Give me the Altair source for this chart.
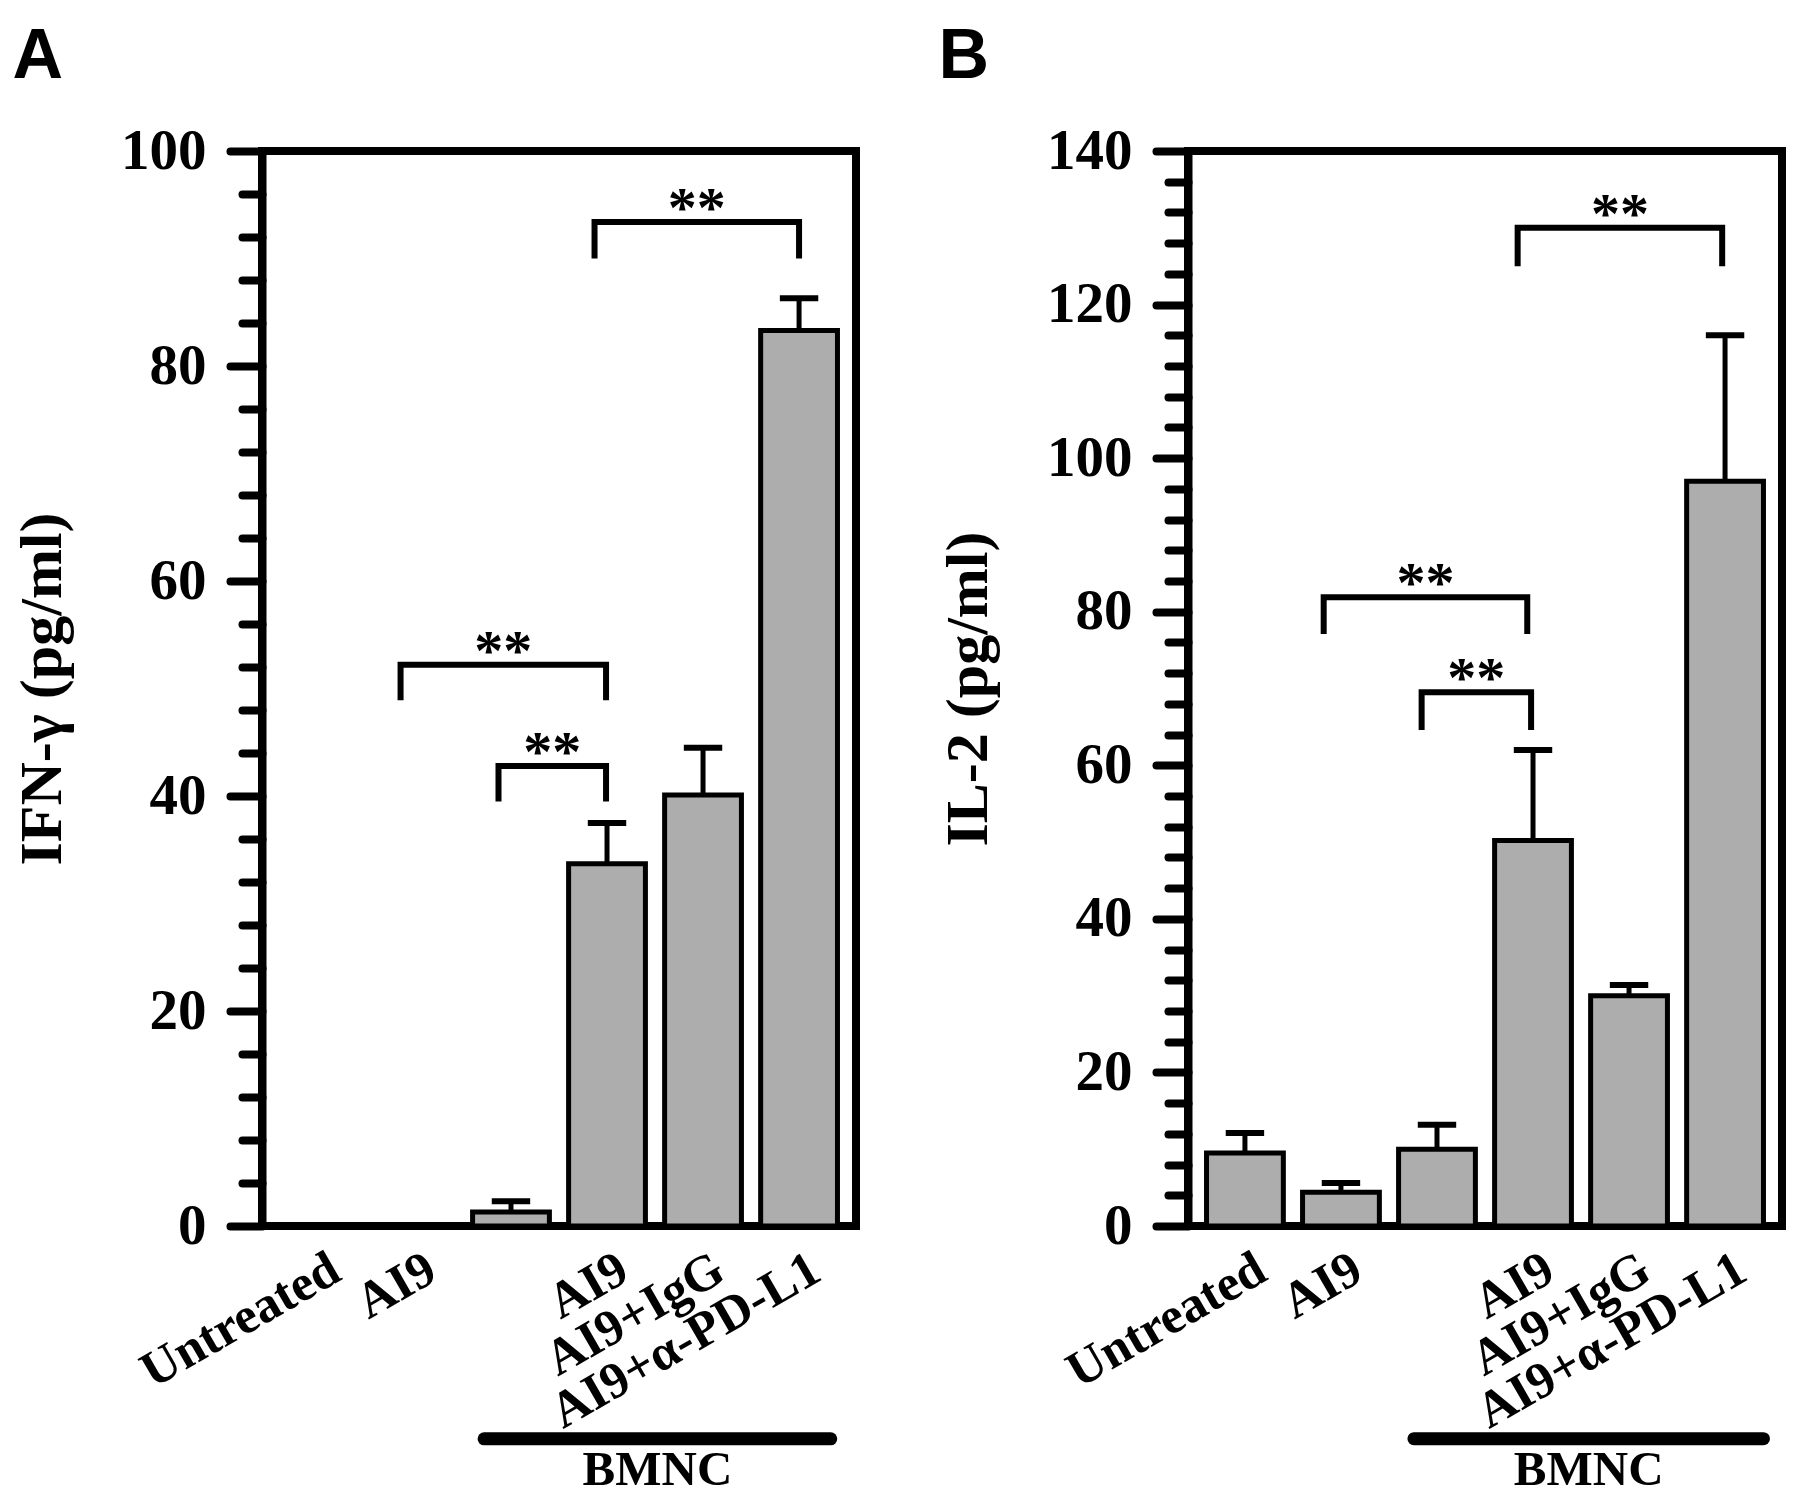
import altair as alt
import pandas as pd

# ---------------- data ----------------
groups = ["Untreated", "AI9", "", "AI9", "AI9+IgG", "AI9+α-PD-L1"]
group_pos = [1, 2, 3, 4, 5, 6]

ifn_mean = [0.0, 0.0, 1.3, 33.7, 40.1, 83.3]
ifn_upper = [0.0, 0.0, 2.3, 37.5, 44.5, 86.3]

il2_mean = [9.5, 4.4, 10.0, 50.2, 30.0, 97.0]
il2_upper = [12.1, 5.6, 13.2, 62.0, 31.4, 116.0]

# significance brackets: from / to (group position), bar level, foot level
ifn_br_from = [3.87, 1.85, 2.87]
ifn_br_to = [6.0, 3.99, 3.99]
ifn_br_level = [93.4, 52.2, 42.8]
ifn_br_foot = [90.0, 48.9, 39.5]

il2_br_from = [3.84, 1.82, 2.84]
il2_br_to = [5.97, 3.94, 3.98]
il2_br_level = [130.0, 81.9, 69.5]
il2_br_foot = [125.0, 77.1, 64.6]

sig_text = ["**", "**", "**"]

# BMNC group annotation (group positions, value-axis level below zero)
ifn_bmnc_span = [2.72, 6.33]
ifn_bmnc_line = -19.8
ifn_bmnc_text = -22.7
il2_bmnc_span = [2.76, 6.40]
il2_bmnc_line = -27.7
il2_bmnc_text = -31.8
bmnc_label = "BMNC"

x_domain = [0.407, 6.593]

SERIF = "Liberation Serif"
SANS = "Liberation Sans"
BAR_FILL = "#ADADAD"


def panel(letter, ytitle, mean, upper, br_from, br_to, br_level, br_foot,
          ymax, bmnc_span, bmnc_line, bmnc_text):
    df = pd.DataFrame({"pos": group_pos, "label": groups,
                       "mean": mean, "upper": upper})
    df["zero"] = 0.0
    df["x0"] = df["pos"] - 0.4
    df["x1"] = df["pos"] + 0.4
    df["c0"] = df["pos"] - 0.2
    df["c1"] = df["pos"] + 0.2

    xs = alt.Scale(domain=x_domain, nice=False, zero=False)
    ys = alt.Scale(domain=[0, ymax], nice=False, zero=False)

    major = list(range(0, ymax + 1, 20))
    minor = [v for v in range(0, ymax + 1, 4) if v % 20]

    major_axis = alt.Axis(
        orient="left", values=major, tickSize=32, tickWidth=8, tickCap="round",
        tickColor="black", domainColor="black", domainWidth=8,
        labelFont=SERIF, labelFontSize=57, labelFontWeight="bold",
        labelColor="black", labelPadding=24, labelFlush=False,
        labelOverlap=False,
        title=ytitle, titleFont=SERIF, titleFontSize=60,
        titleFontWeight="bold", titleColor="black", titlePadding=47,
        grid=False)
    minor_axis = alt.Axis(
        orient="left", values=minor, tickSize=20, tickWidth=8, tickCap="round",
        tickColor="black", domain=False, labels=False, title=None, grid=False)

    base = alt.Chart(df)

    bars = base.mark_rect(fill=BAR_FILL, stroke="black", strokeWidth=5).encode(
        x=alt.X("x0:Q", scale=xs, axis=None), x2="x1:Q",
        y=alt.Y("mean:Q", scale=ys, axis=major_axis), y2="zero:Q")

    err = base.transform_filter("datum.upper > datum.mean")
    stems = err.mark_rule(color="black", strokeWidth=5).encode(
        x=alt.X("pos:Q", scale=xs, axis=None),
        y=alt.Y("mean:Q", scale=ys, axis=minor_axis), y2="upper:Q")
    caps = err.mark_rule(color="black", strokeWidth=6).encode(
        x=alt.X("c0:Q", scale=xs, axis=None), x2="c1:Q",
        y=alt.Y("upper:Q", scale=ys, axis=None))

    labels = base.transform_filter("datum.label != ''").mark_text(
        angle=330, align="right", baseline="top", dx=-5, dy=18,
        font=SERIF, fontSize=51, fontWeight="bold", color="black").encode(
        x=alt.X("pos:Q", scale=xs, axis=None),
        y=alt.Y("zero:Q", scale=ys, axis=None), text="label:N")

    rows = []
    for i in range(len(br_from)):
        pts = [(br_from[i], br_foot[i]), (br_from[i], br_level[i]),
               (br_to[i], br_level[i]), (br_to[i], br_foot[i])]
        for k, (bx, by) in enumerate(pts):
            rows.append({"id": i, "k": k, "bx": bx, "by": by})
    bdf = pd.DataFrame(rows)
    brackets = alt.Chart(bdf).mark_line(
        color="black", strokeWidth=6, strokeJoin="miter", strokeCap="butt").encode(
        x=alt.X("bx:Q", scale=xs, axis=None),
        y=alt.Y("by:Q", scale=ys, axis=None),
        detail="id:N", order="k:Q")

    sdf = pd.DataFrame({"mx": [(a + b) / 2 for a, b in zip(br_from, br_to)],
                        "my": br_level, "t": sig_text})
    stars = alt.Chart(sdf).mark_text(
        align="center", baseline="alphabetic", dy=5,
        font=SERIF, fontSize=58, fontWeight="bold", color="black").encode(
        x=alt.X("mx:Q", scale=xs, axis=None),
        y=alt.Y("my:Q", scale=ys, axis=None), text="t:N")

    ldf = pd.DataFrame({"a": [bmnc_span[0]], "b": [bmnc_span[1]],
                        "y": [bmnc_line]})
    bline = alt.Chart(ldf).mark_rule(color="black", strokeWidth=13,
                                     strokeCap="round").encode(
        x=alt.X("a:Q", scale=xs, axis=None), x2="b:Q",
        y=alt.Y("y:Q", scale=ys, axis=None))

    tdf = pd.DataFrame({"x": [(bmnc_span[0] + bmnc_span[1]) / 2],
                        "y": [bmnc_text], "t": [bmnc_label]})
    btext = alt.Chart(tdf).mark_text(
        align="center", baseline="middle", font=SERIF, fontSize=49,
        fontWeight="bold", color="black").encode(
        x=alt.X("x:Q", scale=xs, axis=None),
        y=alt.Y("y:Q", scale=ys, axis=None), text="t:N")

    return alt.layer(bars, stems, caps, labels, brackets, stars, bline, btext).resolve_axis(
        y="independent").properties(
        width=594, height=1075,
        title=alt.Title(letter, anchor="start", frame="bounds", font=SANS,
                        fontSize=70, fontWeight="bold", color="black", offset=29))


chart_a = panel("A", "IFN-γ (pg/ml)", ifn_mean, ifn_upper, ifn_br_from,
                ifn_br_to, ifn_br_level, ifn_br_foot, 100,
                ifn_bmnc_span, ifn_bmnc_line, ifn_bmnc_text)
chart_b = panel("B", "IL-2 (pg/ml)", il2_mean, il2_upper, il2_br_from,
                il2_br_to, il2_br_level, il2_br_foot, 140,
                il2_bmnc_span, il2_bmnc_line, il2_bmnc_text)

chart = alt.hconcat(chart_a, chart_b, spacing=74).properties(
    padding={"left": 0, "top": 10, "right": 0, "bottom": 0},
    background="white").configure_view(stroke="black", strokeWidth=8)

chart.save("out.html", embed_options={"renderer": "svg", "actions": False})
